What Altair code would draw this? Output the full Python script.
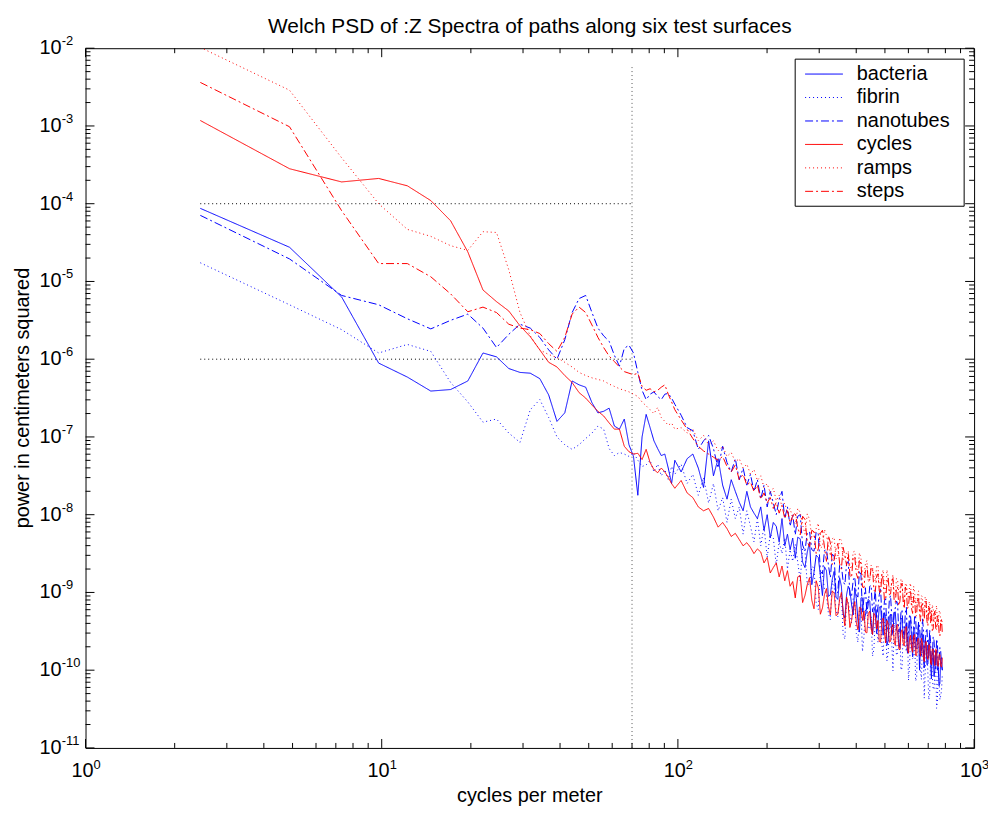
import altair as alt
import pandas as pd

# ---------------- data ----------------
DF = 2.44140625  # Welch bin spacing, cycles per meter
bins = list(range(1, 41)) + list(range(42, 101, 2)) + list(range(104, 321, 4))
bins_mid = list(range(102, 320, 4))  # extra bins in the dense, noisy tail

series_names = ["bacteria", "fibrin", "nanotubes", "cycles", "ramps", "steps"]
series_colors = ["#0000ff", "#0000ff", "#0000ff", "#ff0000", "#ff0000", "#ff0000"]
series_dash = [[1, 0], [1, 3], [8, 3, 2, 3], [1, 0], [1, 3], [8, 3, 2, 3]]

# log10 of power (cm^2)
bacteria = [
    -4.06, -4.56, -5.20, -6.05, -6.23, -6.41, -6.39, -6.28, -5.92, -5.97,
    -6.12, -6.17, -6.18, -6.25, -6.46, -6.80, -6.69, -6.28, -6.33, -6.36,
    -6.56, -6.69, -6.67, -6.63, -6.86, -6.90, -6.77, -7.10, -7.25, -7.75,
    -7.00, -6.71, -6.88, -7.05, -7.15, -7.24, -7.22, -7.40, -7.60, -7.30,
    -7.45, -7.28, -7.22, -7.40, -7.65, -7.05, -7.50, -7.28, -7.62, -7.80,
    -7.55, -7.70, -7.84, -7.95, -7.70, -7.90, -7.98, -8.05, -7.90, -8.20,
    -8.00, -8.30, -8.10, -8.15, -8.35, -8.05, -8.40, -8.25, -8.45, -8.30,
    -8.29, -8.61, -8.48, -8.90, -8.52, -8.78, -8.67, -9.05, -8.83, -9.06,
    -8.81, -9.27, -9.03, -8.98, -9.29, -9.08, -9.51, -9.07, -9.29, -9.09,
    -9.39, -9.25, -9.53, -9.19, -9.41, -9.26, -9.68, -9.31, -9.55, -9.26,
    -9.48, -9.65, -9.34, -9.58, -9.43, -9.78, -9.38, -9.61, -9.44, -9.73,
    -9.55, -10.00, -9.53, -9.74, -9.62, -9.93, -9.61, -9.88, -9.76, -10.08,
    -9.76, -10.00, -10.20, -9.85, -10.00,
]
bacteria_mid = [
    -8.56, -8.31, -8.68, -8.35, -8.74, -8.55, -9.04, -8.72, -9.03, -8.73,
    -9.09, -8.92, -9.33, -8.92, -9.15, -8.94, -9.36, -9.07, -9.36, -9.16,
    -9.11, -9.54, -9.18, -9.40, -9.18, -9.55, -9.31, -9.62, -9.28, -9.51,
    -9.25, -9.50, -9.71, -9.33, -9.60, -9.39, -9.73, -9.36, -9.83, -9.47,
    -9.72, -9.40, -9.73, -9.54, -9.97, -9.65, -9.92, -9.63, -10.11, -9.72,
    -10.00, -9.75, -9.97, -10.17, -9.84,
]
fibrin = [
    -4.76, -5.30, -5.62, -5.92, -5.81, -5.90, -6.30, -6.55, -6.81, -6.77,
    -6.95, -7.07, -6.65, -6.52, -6.75, -7.00, -7.10, -7.16, -7.10, -7.02,
    -6.95, -6.86, -6.90, -7.15, -7.24, -7.20, -7.22, -7.25, -7.20, -7.30,
    -7.38, -7.36, -7.30, -7.45, -7.35, -7.50, -7.42, -7.55, -7.38, -7.48,
    -7.35, -7.60, -7.48, -7.75, -7.52, -7.85, -7.60, -7.95, -7.78, -8.10,
    -7.80, -8.05, -7.90, -8.25, -7.95, -8.15, -8.35, -8.05, -8.40, -8.15,
    -8.55, -8.25, -8.30, -8.65, -8.35, -8.50, -8.30, -8.70, -8.45, -8.60,
    -8.61, -8.43, -8.90, -8.67, -9.14, -8.73, -8.96, -9.27, -8.85, -9.23,
    -9.06, -9.54, -9.07, -9.28, -9.08, -9.53, -9.22, -9.76, -9.21, -9.46,
    -9.31, -9.73, -9.29, -9.50, -9.67, -9.38, -9.88, -9.45, -9.65, -9.39,
    -9.81, -9.53, -10.00, -9.50, -9.69, -9.50, -9.94, -9.60, -9.84, -10.14,
    -9.61, -9.86, -10.12, -9.72, -10.04, -9.71, -10.38, -9.85, -10.08, -10.25,
    -9.90, -10.40, -10.12, -10.33, -10.05,
]
fibrin_mid = [
    -8.38, -8.85, -8.47, -8.89, -8.68, -9.22, -8.76, -9.04, -9.35, -8.91,
    -9.31, -9.02, -9.60, -9.12, -9.39, -9.12, -9.64, -9.21, -9.57, -9.19,
    -9.47, -9.82, -9.32, -9.64, -9.34, -9.82, -9.44, -9.78, -9.38, -10.01,
    -9.47, -9.78, -9.47, -9.97, -9.48, -9.76, -10.13, -9.58, -9.85, -9.57,
    -10.10, -9.64, -10.00, -9.66, -10.36, -9.78, -10.04, -10.31, -9.81, -10.24,
    -10.04, -10.49, -9.97, -10.38, -10.26,
]
nanotubes = [
    -4.15, -4.71, -5.18, -5.30, -5.48, -5.61, -5.50, -5.42, -5.60, -5.85,
    -5.68, -5.55, -5.60, -5.72, -5.88, -6.00, -5.75, -5.40, -5.22, -5.18,
    -5.40, -5.60, -5.70, -5.77, -5.95, -6.09, -5.86, -5.82, -5.92, -6.17,
    -6.40, -6.52, -6.45, -6.42, -6.48, -6.52, -6.45, -6.44, -6.50, -6.58,
    -6.72, -6.88, -6.92, -7.16, -7.05, -6.98, -7.15, -7.40, -7.12, -7.33,
    -7.45, -7.28, -7.55, -7.40, -7.62, -7.48, -7.70, -7.55, -7.80, -7.62,
    -7.90, -7.70, -7.85, -8.00, -7.80, -7.70, -8.05, -7.90, -8.15, -8.00,
    -8.02, -8.39, -8.23, -8.45, -8.22, -8.73, -8.46, -8.65, -8.51, -9.01,
    -8.65, -8.86, -8.63, -9.05, -8.84, -9.03, -8.72, -9.26, -8.94, -9.14,
    -8.91, -9.15, -9.34, -9.03, -9.32, -9.11, -9.51, -9.09, -9.31, -9.25,
    -9.11, -9.51, -9.26, -9.49, -9.26, -9.63, -9.28, -9.46, -9.61, -9.31,
    -9.58, -9.43, -9.82, -9.45, -9.65, -9.46, -9.85, -9.63, -9.84, -9.62,
    -9.97, -9.65, -9.87, -9.76, -10.00,
]
nanotubes_mid = [
    -8.26, -8.00, -8.47, -8.22, -8.47, -8.25, -8.76, -8.45, -8.81, -8.53,
    -9.00, -8.65, -8.90, -8.60, -9.05, -8.80, -9.06, -8.77, -9.07, -9.27,
    -8.92, -9.25, -8.95, -9.18, -8.94, -9.40, -9.08, -9.36, -9.04, -9.52,
    -9.20, -9.14, -9.49, -9.22, -9.55, -9.19, -9.49, -9.31, -9.66, -9.29,
    -9.63, -9.38, -9.63, -9.34, -9.80, -9.51, -9.76, -9.48, -9.95, -9.57,
    -9.82, -9.60, -9.98, -9.71, -9.94,
]
cycles = [
    -2.93, -3.55, -3.72, -3.675, -3.77, -3.96, -4.22, -4.62, -5.11, -5.26,
    -5.38, -5.57, -5.71, -5.88, -6.04, -6.10, -6.21, -6.30, -6.43, -6.50,
    -6.59, -6.67, -6.73, -6.82, -6.90, -6.90, -7.12, -7.19, -7.22, -7.21,
    -7.29, -7.16, -7.33, -7.42, -7.46, -7.40, -7.45, -7.52, -7.60, -7.66,
    -7.56, -7.72, -7.78, -7.90, -7.95, -7.92, -8.03, -8.16, -8.10, -8.18,
    -8.28, -8.24, -8.32, -8.40, -8.36, -8.42, -8.50, -8.44, -8.48, -8.62,
    -8.55, -8.75, -8.68, -8.62, -8.80, -8.66, -8.85, -8.72, -8.92, -8.86,
    -8.80, -9.13, -8.90, -9.10, -8.85, -9.28, -9.03, -9.18, -8.98, -9.30,
    -9.09, -9.25, -9.06, -9.45, -9.21, -9.39, -9.19, -9.36, -9.51, -9.27,
    -9.47, -9.27, -9.47, -9.63, -9.37, -9.50, -9.36, -9.64, -9.44, -9.62,
    -9.43, -9.72, -9.51, -9.65, -9.46, -9.73, -9.59, -9.72, -9.56, -9.81,
    -9.60, -9.74, -9.59, -9.83, -9.68, -9.82, -9.67, -9.91, -9.73, -9.86,
    -9.73, -9.93, -9.80, -9.94, -9.84,
]
cycles_mid = [
    -9.07, -8.78, -9.04, -8.81, -9.21, -8.94, -9.20, -8.95, -9.29, -9.01,
    -9.28, -9.00, -9.43, -9.16, -9.36, -9.12, -9.48, -9.20, -9.24, -9.52,
    -9.24, -9.54, -9.30, -9.36, -9.64, -9.33, -9.65, -9.40, -9.63, -9.41,
    -9.68, -9.41, -9.74, -9.48, -9.69, -9.44, -9.78, -9.55, -9.77, -9.54,
    -9.81, -9.59, -9.82, -9.64, -9.89, -9.63, -9.86, -9.68, -9.93, -9.73,
    -9.94, -9.74, -9.95, -9.80, -9.96,
]
ramps = [
    -1.99, -2.54, -3.41, -4.00, -4.33, -4.42, -4.54, -4.60, -4.36, -4.37,
    -4.85, -5.40, -5.70, -5.88, -5.94, -5.98, -6.04, -6.10, -6.17, -6.21,
    -6.24, -6.26, -6.28, -6.32, -6.35, -6.38, -6.40, -6.42, -6.45, -6.48,
    -6.55, -6.60, -6.65, -6.70, -6.62, -6.75, -6.80, -6.85, -6.82, -6.90,
    -6.88, -6.95, -6.90, -7.05, -6.98, -7.10, -7.05, -7.18, -7.12, -7.25,
    -7.20, -7.32, -7.28, -7.40, -7.35, -7.48, -7.42, -7.56, -7.50, -7.65,
    -7.60, -7.72, -7.66, -7.82, -7.75, -7.90, -7.85, -7.98, -7.92, -8.05,
    -7.92, -8.13, -7.99, -8.30, -8.18, -8.43, -8.19, -8.39, -8.31, -8.57,
    -8.30, -8.57, -8.48, -8.67, -8.48, -8.66, -8.49, -8.76, -8.63, -8.87,
    -8.65, -8.80, -8.66, -8.95, -8.77, -8.93, -8.71, -8.98, -8.85, -9.03,
    -8.82, -9.00, -8.83, -9.13, -8.90, -9.04, -8.92, -9.16, -8.92, -9.16,
    -9.04, -9.24, -9.04, -9.21, -9.06, -9.34, -9.14, -9.30, -9.16, -9.38,
    -9.23, -9.43, -9.25, -9.39, -9.33,
]
ramps_mid = [
    -8.12, -7.97, -8.25, -8.06, -8.27, -8.11, -8.41, -8.27, -8.53, -8.29,
    -8.54, -8.33, -8.58, -8.47, -8.70, -8.47, -8.71, -8.56, -8.81, -8.59,
    -8.83, -8.68, -8.86, -8.65, -8.89, -8.71, -9.00, -8.80, -8.97, -8.77,
    -9.04, -8.84, -8.99, -8.83, -9.12, -8.88, -9.08, -8.88, -9.16, -9.00,
    -9.18, -8.98, -9.26, -9.06, -9.26, -9.06, -9.28, -9.12, -9.38, -9.20,
    -9.37, -9.17, -9.39, -9.23, -9.42,
]
steps = [
    -2.44, -3.01, -4.09, -4.77, -4.77, -4.94, -5.16, -5.39, -5.33, -5.40,
    -5.55, -5.60, -5.62, -5.67, -5.80, -5.90, -5.72, -5.42, -5.33, -5.40,
    -5.56, -5.72, -5.85, -5.96, -6.03, -6.10, -6.16, -6.18, -6.20, -6.18,
    -6.35, -6.40, -6.38, -6.42, -6.40, -6.36, -6.33, -6.45, -6.55, -6.65,
    -6.78, -6.90, -7.02, -7.12, -7.18, -7.22, -7.26, -7.30, -7.25, -7.38,
    -7.45, -7.36, -7.55, -7.48, -7.62, -7.58, -7.70, -7.62, -7.80, -7.72,
    -7.85, -7.78, -7.92, -7.84, -7.98, -7.88, -8.05, -7.95, -8.10, -8.02,
    -8.17, -8.02, -8.35, -8.20, -8.50, -8.24, -8.42, -8.27, -8.64, -8.44,
    -8.63, -8.42, -8.65, -8.78, -8.55, -8.76, -8.58, -8.93, -8.72, -8.84,
    -8.68, -8.97, -8.79, -8.98, -8.76, -9.10, -8.88, -9.03, -8.86, -9.10,
    -8.95, -9.17, -8.92, -9.10, -8.93, -9.21, -9.03, -9.21, -9.05, -9.31,
    -9.07, -9.25, -9.16, -9.37, -9.17, -9.37, -9.17, -9.39, -9.49, -9.29,
    -9.46, -9.30, -9.52, -9.37, -9.53,
]
steps_mid = [
    -7.97, -8.26, -8.06, -8.41, -8.22, -8.44, -8.20, -8.60, -8.36, -8.58,
    -8.37, -8.70, -8.53, -8.50, -8.81, -8.54, -8.82, -8.63, -8.94, -8.66,
    -8.84, -8.69, -8.99, -8.76, -9.02, -8.84, -9.09, -8.81, -9.02, -8.82,
    -9.13, -8.93, -9.12, -8.88, -9.21, -8.97, -9.17, -8.97, -9.27, -9.07,
    -9.29, -9.07, -9.37, -9.13, -9.35, -9.11, -9.43, -9.23, -9.23, -9.47,
    -9.24, -9.48, -9.32, -9.56, -9.35,
]
series_values = [bacteria, fibrin, nanotubes, cycles, ramps, steps]
series_mid = [bacteria_mid, fibrin_mid, nanotubes_mid, cycles_mid, ramps_mid, steps_mid]

# dotted guide lines
guide_levels = [1e-4, 1e-6]
guide_x_range = [2.44, 70.0]
guide_v_x = 70.0
guide_v_range = [1e-11, 6e-3]

title_text = "Welch PSD of :Z Spectra of paths along six test surfaces"
x_title = "cycles per meter"
y_title = "power in centimeters squared"

# ---------------- layout / style ----------------
FONT = "Liberation Sans"
W, H = 894, 704

rows = []
for name, vals, mids in zip(series_names, series_values, series_mid):
    pairs = sorted(list(zip(bins, vals)) + list(zip(bins_mid, mids)))
    for i, (k, v) in enumerate(pairs):
        rows.append({"series": name, "f": k * DF, "p": 10.0 ** v, "i": i})
df = pd.DataFrame(rows)

xs = alt.Scale(type="log", domain=[1, 1000])
ys = alt.Scale(type="log", domain=[1e-11, 1e-2])

one = pd.DataFrame({"a": [0]})

lines = alt.Chart(df).mark_line(strokeWidth=1, clip=True).encode(
    x=alt.X("f:Q", scale=xs, axis=None),
    y=alt.Y("p:Q", scale=ys, axis=None),
    color=alt.Color("series:N", scale=alt.Scale(domain=series_names, range=series_colors), legend=None),
    strokeDash=alt.StrokeDash("series:N", scale=alt.Scale(domain=series_names, range=series_dash), legend=None),
    order=alt.Order("i:Q"),
)

hguide = alt.Chart(pd.DataFrame({
    "y": guide_levels,
    "x": [guide_x_range[0]] * len(guide_levels),
    "x2": [guide_x_range[1]] * len(guide_levels),
})).mark_rule(color="#000000", strokeWidth=1, strokeDash=[1, 3]).encode(
    x=alt.X("x:Q", scale=xs, axis=None), x2="x2:Q", y=alt.Y("y:Q", scale=ys, axis=None)
)
vguide = alt.Chart(pd.DataFrame({
    "x": [guide_v_x], "y": [guide_v_range[0]], "y2": [guide_v_range[1]]
})).mark_rule(color="#555555", strokeWidth=1, strokeDash=[1, 3]).encode(
    x=alt.X("x:Q", scale=xs, axis=None), y=alt.Y("y:Q", scale=ys, axis=None), y2="y2:Q"
)

# tick positions
y_major = [10.0 ** e for e in range(-11, -1)]
y_exp = [str(e) for e in range(-11, -1)]
y_minor = [m * 10.0 ** e for e in range(-11, -2) for m in range(2, 10)]
x_major = [1.0, 10.0, 100.0, 1000.0]
x_exp = ["0", "1", "2", "3"]
x_minor = [m * 10.0 ** e for e in range(0, 3) for m in range(2, 10)]

def yticks(vals, length):
    d = alt.Chart(pd.DataFrame({"v": vals}))
    left = d.mark_rule(color="black", strokeWidth=1).encode(
        y=alt.Y("v:Q", scale=ys, axis=None), x=alt.value(0), x2=alt.value(length))
    right = d.mark_rule(color="black", strokeWidth=1).encode(
        y=alt.Y("v:Q", scale=ys, axis=None), x=alt.value(W - length), x2=alt.value(W))
    return [left, right]

def xticks(vals, length):
    d = alt.Chart(pd.DataFrame({"v": vals}))
    bottom = d.mark_rule(color="black", strokeWidth=1).encode(
        x=alt.X("v:Q", scale=xs, axis=None), y=alt.value(H - length), y2=alt.value(H))
    top = d.mark_rule(color="black", strokeWidth=1).encode(
        x=alt.X("v:Q", scale=xs, axis=None), y=alt.value(0), y2=alt.value(length))
    return [bottom, top]

tick_layers = yticks(y_major, 9) + yticks(y_minor, 5) + xticks(x_major, 9) + xticks(x_minor, 5)

ylab_df = pd.DataFrame({"v": y_major, "e": y_exp})
ylab_base = alt.Chart(ylab_df).mark_text(align="right", baseline="middle", fontSize=20, font=FONT, color="black").encode(
    y=alt.Y("v:Q", scale=ys, axis=None), x=alt.value(-24), text=alt.value("10"))
ylab_exp = alt.Chart(ylab_df).mark_text(align="left", baseline="middle", fontSize=13, font=FONT, color="black", dy=-7).encode(
    y=alt.Y("v:Q", scale=ys, axis=None), x=alt.value(-24), text="e:N")

xlab_df = pd.DataFrame({"v": x_major, "e": x_exp})
xlab_base = alt.Chart(xlab_df).mark_text(align="right", baseline="alphabetic", fontSize=20, font=FONT, color="black", dx=8).encode(
    x=alt.X("v:Q", scale=xs, axis=None), y=alt.value(H + 29), text=alt.value("10"))
xlab_exp = alt.Chart(xlab_df).mark_text(align="left", baseline="alphabetic", fontSize=13, font=FONT, color="black", dx=8).encode(
    x=alt.X("v:Q", scale=xs, axis=None), y=alt.value(H + 21), text="e:N")

title = alt.Chart(one).mark_text(align="center", baseline="alphabetic", fontSize=21, font=FONT, color="black").encode(
    x=alt.value(W / 2), y=alt.value(-15), text=alt.value(title_text))
xtitle = alt.Chart(one).mark_text(align="center", baseline="alphabetic", fontSize=20, font=FONT, color="black").encode(
    x=alt.value(W / 2), y=alt.value(H + 54), text=alt.value(x_title))
ytitle = alt.Chart(one).mark_text(align="center", baseline="alphabetic", fontSize=20, font=FONT, color="black", angle=270).encode(
    x=alt.value(-57), y=alt.value(H / 2), text=alt.value(y_title))

# legend box
LX0, LX1, LY0, LY1 = 714, 884, 11, 159
legend_layers = [alt.Chart(one).mark_rect(fill="white", stroke="black", strokeWidth=1).encode(
    x=alt.value(LX0), x2=alt.value(LX1), y=alt.value(LY0), y2=alt.value(LY1))]
for idx, (name, col, dash) in enumerate(zip(series_names, series_colors, series_dash)):
    yy = 26 + 23.6 * idx
    legend_layers.append(alt.Chart(one).mark_rule(color=col, strokeWidth=1, strokeDash=dash).encode(
        x=alt.value(724), x2=alt.value(762), y=alt.value(yy)))
    legend_layers.append(alt.Chart(one).mark_text(align="left", baseline="middle", fontSize=20, font=FONT, color="black").encode(
        x=alt.value(776), y=alt.value(yy), text=alt.value(name)))

chart = alt.layer(
    hguide, vguide, lines, *tick_layers, ylab_base, ylab_exp, xlab_base, xlab_exp,
    title, xtitle, ytitle, *legend_layers
).properties(
    width=W, height=H,
    padding={"left": 78, "top": 38, "right": 14, "bottom": 62},
    autosize=alt.AutoSizeParams(type="none"),
    background="white",
).configure_view(stroke="black", strokeWidth=1)

chart.save("out.html", embed_options={"renderer": "svg", "actions": False})
